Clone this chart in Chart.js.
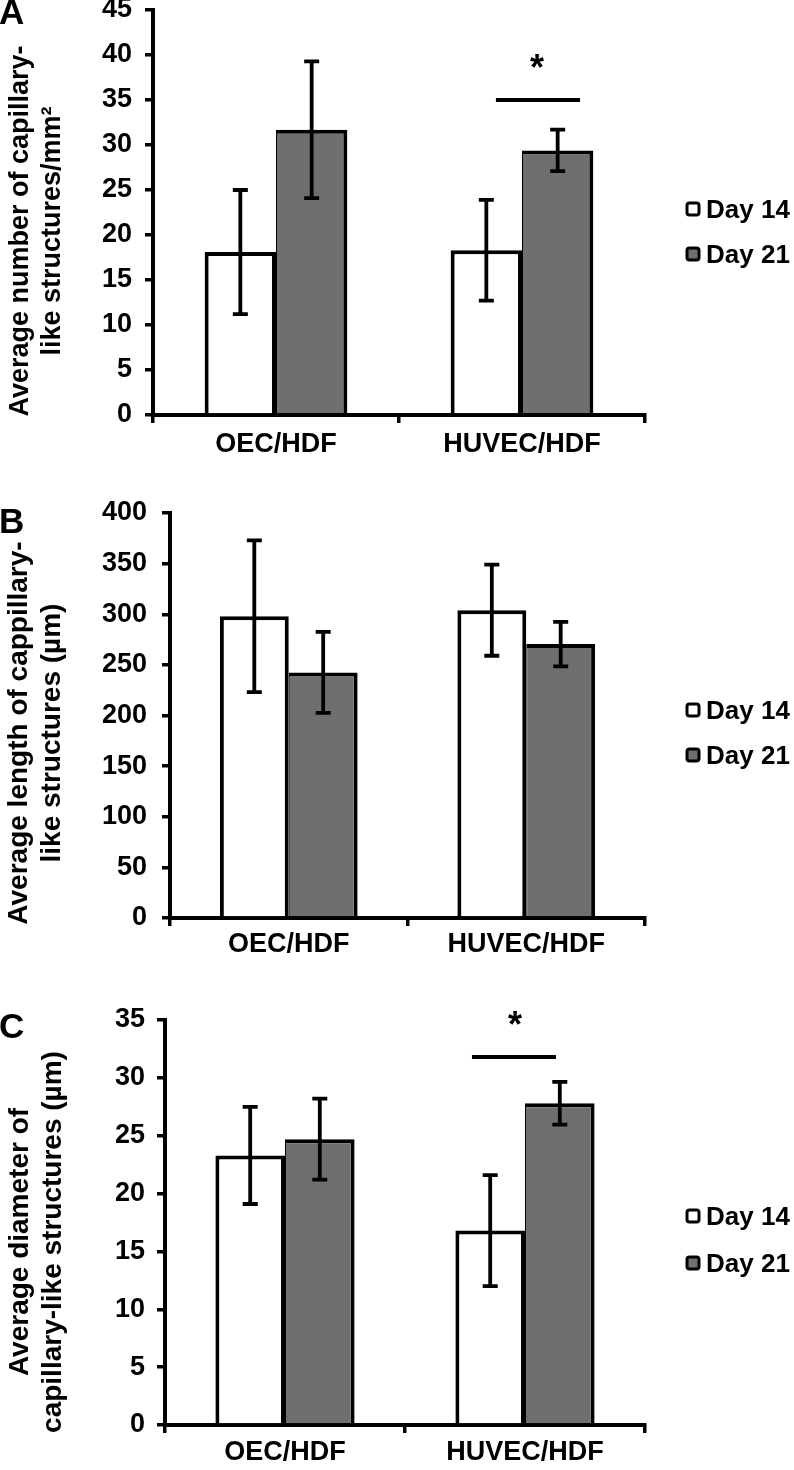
<!DOCTYPE html>
<html><head><meta charset="utf-8">
<script src="https://cdn.jsdelivr.net/npm/chart.js@4.4.0/dist/chart.umd.min.js"></script>
<style>
html,body{margin:0;padding:0;background:#fff;}
#wrap{position:relative;width:794px;height:1470px;overflow:hidden;background:#fff;}
canvas{position:absolute;left:0;}
</style></head><body>
<div id="wrap">
<canvas id="cA" width="794" height="490" style="top:0px"></canvas>
<canvas id="cB" width="794" height="480" style="top:490px"></canvas>
<canvas id="cC" width="794" height="500" style="top:970px"></canvas>
</div>
<script>
// ---------- data ----------
const categories = ['OEC/HDF', 'HUVEC/HDF'];
const seriesLabels = ['Day 14', 'Day 21'];

// Panel A: number of capillary-like structures / mm2
const aDay14 = [18.1, 18.3];
const aDay21 = [31.7, 29.4];
const aDay14Err = [6.9, 5.6];
const aDay21Err = [7.6, 2.3];
const aTicks = [0, 5, 10, 15, 20, 25, 30, 35, 40, 45];
const aTitle = ['Average number of capillary-', 'like structures/mm²'];
const aSigX = [0.894, 1.236];
const aSigY = [35];
const aStar = [1.061, 39.3];

// Panel B: length of capillary-like structures (um)
const bDay14 = [298, 304];
const bDay21 = [242.5, 270.5];
const bDay14Err = [75, 45];
const bDay21Err = [40, 22];
const bTicks = [0, 50, 100, 150, 200, 250, 300, 350, 400];
const bTitle = ['Average length of cappillary-', 'like structures (µm)'];

// Panel C: diameter of capillary-like structures (um)
const cDay14 = [23.3, 16.8];
const cDay21 = [24.7, 27.8];
const cDay14Err = [4.2, 4.8];
const cDay21Err = [3.5, 1.85];
const cTicks = [0, 5, 10, 15, 20, 25, 30, 35];
const cTitle = ['Average diameter of', 'capillary-like structures (µm)'];
const cSigX = [0.779, 1.129];
const cSigY = [31.8];
const cStar = [0.958, 35.2];

// ---------- drawing ----------
const FONT = "'Liberation Sans', Arial, Helvetica, sans-serif";
const GREY = '#6f6f6f';
const LABEL_SIZE = 27;

const overlay = {
  id: 'overlay',
  afterDatasetsDraw(chart, args, o) {
    const ctx = chart.ctx, xs = chart.scales.x, ys = chart.scales.y;
    ctx.save();
    ctx.strokeStyle = '#000';
    ctx.lineWidth = 3.8;
    chart.data.datasets.forEach((ds, di) => {
      const meta = chart.getDatasetMeta(di);
      meta.data.forEach((bar, i) => {
        const v = ds.data[i], e = ds.errors[i];
        const yt = ys.getPixelForValue(v + e), yb = ys.getPixelForValue(v - e);
        ctx.beginPath();
        ctx.moveTo(bar.x, yt); ctx.lineTo(bar.x, yb);
        ctx.moveTo(bar.x - 7.5, yt); ctx.lineTo(bar.x + 7.5, yt);
        ctx.moveTo(bar.x - 7.5, yb); ctx.lineTo(bar.x + 7.5, yb);
        ctx.stroke();
      });
    });
    if (o.sigX) {
      const y = ys.getPixelForValue(o.sigY[0]);
      ctx.lineWidth = 4;
      ctx.beginPath();
      ctx.moveTo(xs.getPixelForValue(o.sigX[0]), y);
      ctx.lineTo(xs.getPixelForValue(o.sigX[1]), y);
      ctx.stroke();
      ctx.fillStyle = '#000';
      ctx.font = 'bold 36px ' + FONT;
      ctx.textAlign = 'center';
      ctx.textBaseline = 'alphabetic';
      const m = ctx.measureText('*');
      const cy = ys.getPixelForValue(o.star[1]);
      const base = cy - (m.actualBoundingBoxDescent - m.actualBoundingBoxAscent) / 2;
      ctx.fillText('*', xs.getPixelForValue(o.star[0]), base);
    }
    ctx.restore();
  },
  afterDraw(chart, args, o) {
    const ctx = chart.ctx;
    ctx.save();
    ctx.fillStyle = '#000';
    // panel letter
    ctx.font = 'bold 35px ' + FONT;
    ctx.textAlign = 'left';
    ctx.textBaseline = 'alphabetic';
    ctx.fillText(o.letter, -1, o.letterY);
    // y-axis title (rotated)
    ctx.font = 'bold ' + o.titleSize + 'px ' + FONT;
    ctx.textAlign = 'center';
    o.title.forEach((line, i) => {
      ctx.save();
      ctx.translate(o.titleX[i], o.titleY);
      ctx.rotate(-Math.PI / 2);
      ctx.fillText(line, 0, 0);
      ctx.restore();
    });
    // legend
    ctx.font = 'bold 26px ' + FONT;
    ctx.textAlign = 'left';
    chart.data.datasets.forEach((ds, i) => {
      const cy = o.legendY[i];
      ctx.beginPath();
      ctx.roundRect(687, cy - 6, 12, 12, 2.5);
      ctx.fillStyle = ds.backgroundColor;
      ctx.fill();
      ctx.lineWidth = 3;
      ctx.strokeStyle = '#000';
      ctx.stroke();
      ctx.fillStyle = '#000';
      ctx.fillText(ds.label, 706, cy + 9);
    });
    ctx.restore();
  }
};

function makeChart(id, geo, d14, d21, e14, e21, ticks, extra) {
  const H = geo.H;
  return new Chart(document.getElementById(id), {
    type: 'bar',
    data: {
      labels: categories,
      datasets: [
        { label: seriesLabels[0], data: d14, errors: e14, backgroundColor: '#ffffff', borderColor: '#000',
          borderWidth: { top: 4, left: 4, right: 4, bottom: 0 }, borderSkipped: 'start',
          categoryPercentage: 0.58, barPercentage: 1.0 },
        { label: seriesLabels[1], data: d21, errors: e21, backgroundColor: GREY, borderColor: '#000',
          borderWidth: { top: 4, left: 1, right: 4, bottom: 0 }, borderSkipped: 'start',
          categoryPercentage: 0.58, barPercentage: 1.0 }
      ]
    },
    options: {
      responsive: false, animation: false, events: [], devicePixelRatio: 1,
      layout: { padding: { left: 0, top: geo.T, right: 794 - geo.R, bottom: 0 } },
      scales: {
        x: {
          z: 1,
          afterFit: s => { s.height = H - geo.B; s.paddingLeft = 0; s.paddingRight = 0; },
          grid: { offset: true, drawOnChartArea: false, drawTicks: true, tickLength: 8, color: '#000', lineWidth: 3.5 },
          border: { display: true, color: '#000', width: 4 },
          ticks: { color: '#000', font: { family: FONT, size: LABEL_SIZE, weight: 'bold' }, padding: geo.xPad, maxRotation: 0 }
        },
        y: {
          min: 0, max: ticks[ticks.length - 1],
          afterBuildTicks: s => { s.ticks = ticks.map(v => ({ value: v })); },
          afterFit: s => { s.width = geo.L; s.paddingTop = 0; s.paddingBottom = 0; },
          grid: { drawOnChartArea: false, drawTicks: true, tickLength: 8, color: '#000', lineWidth: 3.5 },
          border: { display: true, color: '#000', width: 4 },
          ticks: { color: '#000', font: { family: FONT, size: LABEL_SIZE, weight: 'bold' }, padding: geo.yPad }
        }
      },
      plugins: {
        legend: { display: false },
        tooltip: { enabled: false },
        overlay: extra
      }
    },
    plugins: [overlay]
  });
}

makeChart('cA', { H: 490, L: 153, T: 10, R: 645, B: 415, xPad: 5, yPad: 13 },
  aDay14, aDay21, aDay14Err, aDay21Err, aTicks,
  { letter: 'A', letterY: 24, title: aTitle, titleSize: 27, titleX: [28, 60], titleY: 231,
    legendY: [209, 254], sigX: aSigX, sigY: aSigY, star: aStar });

makeChart('cB', { H: 480, L: 170, T: 23, R: 645, B: 428, xPad: 2, yPad: 15 },
  bDay14, bDay21, bDay14Err, bDay21Err, bTicks,
  { letter: 'B', letterY: 43, title: bTitle, titleSize: 28, titleX: [27, 60], titleY: 243,
    legendY: [220, 265] });

makeChart('cC', { H: 500, L: 165, T: 50, R: 645, B: 455, xPad: 3, yPad: 12 },
  cDay14, cDay21, cDay14Err, cDay21Err, cTicks,
  { letter: 'C', letterY: 68, title: cTitle, titleSize: 28, titleX: [28, 61], titleY: 272,
    legendY: [246, 293], sigX: cSigX, sigY: cSigY, star: cStar });
</script>
</body></html>
